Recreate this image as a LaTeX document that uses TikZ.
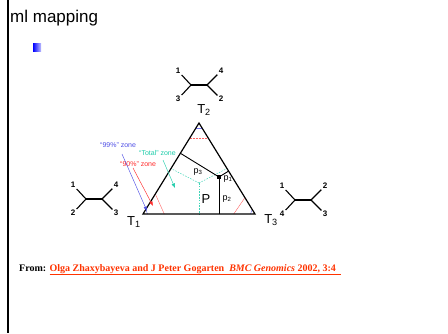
\documentclass[tikz,border=0pt]{standalone}
\usepackage{fontspec}
\setmainfont{Liberation Serif}
\setsansfont{Liberation Sans}
\usetikzlibrary{arrows.meta,calc}
\definecolor{zblue}{RGB}{80,80,230}
\definecolor{zcyan}{RGB}{30,205,170}
\definecolor{zred}{RGB}{255,45,45}
\definecolor{lnkred}{RGB}{255,51,0}
\tikzset{
  leaf/.style={font=\sffamily\bfseries\fontsize{8}{8}\selectfont, inner sep=1.2pt},
  treeline/.style={line width=1.1pt},
  tri/.style={line width=1.2pt},
  perp/.style={line width=0.9pt},
  cyandash/.style={zcyan!85, line width=0.5pt, dash pattern=on 1.5pt off 1.3pt},
  redline/.style={zred!75, line width=0.4pt},
  blueline/.style={zblue!80, line width=0.4pt},
  zlab/.style={font=\sffamily\fontsize{7}{7}\selectfont, inner sep=0, anchor=west},
  plab/.style={font=\sffamily\fontsize{9}{9}\selectfont, inner sep=0},
  tlab/.style={font=\sffamily\fontsize{13}{13}\selectfont, inner sep=0},
  ptr/.style={line width=0.45pt, -{Latex[length=4.5pt,width=3.5pt]}}
}
\newcommand\qtet[7]{%
  \coordinate (#1l) at ({#2-8},#3);
  \coordinate (#1r) at ({#2+8},#3);
  \node[leaf] (#1a) at ({#2-21},{#3-14}) {#4};
  \node[leaf] (#1b) at ({#2+22},{#3-14}) {#5};
  \node[leaf] (#1c) at ({#2-21},{#3+14}) {#6};
  \node[leaf] (#1d) at ({#2+22},{#3+14}) {#7};
  \draw[treeline] (#1a) -- (#1l) -- (#1c);
  \draw[treeline] (#1l) -- (#1r);
  \draw[treeline] (#1b) -- (#1r) -- (#1d);
}
\begin{document}
\begin{tikzpicture}[x=1pt,y=-1pt]
\useasboundingbox (0,0) rectangle (448,333);
\fill[white] (0,0) rectangle (448,333);
\draw[line width=1.4pt] (8,0) -- (8,333);
\node[anchor=base west, font=\sffamily\fontsize{17}{17}\selectfont, inner sep=0] (title) at (10,22) {ml mapping};
\shade[left color=blue, right color=blue!25] (33,43) rectangle (41,51);

% trees
\qtet{tt}{199}{85}{1}{4}{3}{2}
\qtet{lt}{94}{199}{1}{4}{2}{3}
\qtet{rt}{303}{200}{1}{2}{4}{3}

% triangle points
\coordinate (T1) at (143,214);
\coordinate (T2) at (199,123);
\coordinate (T3) at (255,214);
\coordinate (P) at (219,177);
\coordinate (C) at (199,183);

% total zone
\draw[cyandash] (C) -- ($(T1)!0.5!(T3)$);
\draw[cyandash] (C) -- ($(T1)!0.5!(T2)$);
\draw[cyandash] (C) -- ($(T2)!0.5!(T3)$);
% 90% zone
\draw[redline] ($(T1)!0.22!(T2)$) -- ($(T1)!0.19!(T3)$);
\draw[redline, dash pattern=on 2pt off 1pt] ($(T2)!0.165!(T1)$) -- ($(T2)!0.165!(T3)$);
\draw[redline] ($(T3)!0.18!(T2)$) -- ($(T3)!0.19!(T1)$);
% 99% zone
\draw[blueline] ($(T2)!0.055!(T1)$) -- ($(T2)!0.055!(T3)$);
\draw[blueline] ($(T3)!0.05!(T2)$) -- ($(T3)!0.04!(T1)$);
\draw[blueline] ($(T1)!0.05!(T2)$) -- ($(T1)!0.04!(T3)$);

% perpendiculars
\draw[perp] (P) -- ($(T1)!(P)!(T3)$);
\draw[perp] (P) -- ($(T1)!(P)!(T2)$);
\draw[perp] (P) -- ($(T2)!(P)!(T3)$);
\node[fill=black, minimum size=3.2pt, inner sep=0] (dot) at (P) {};

\draw[tri] (T1) -- (T2) -- (T3) -- cycle;

% labels inside
\node[plab] (p3) at (198,172) {p\textsubscript{3}};
\node[plab] (p1) at (228,179) {p\textsubscript{1}};
\node[plab] (p2) at (227,199) {p\textsubscript{2}};
\node[font=\sffamily\fontsize{13}{13}\selectfont, inner sep=0] (PP) at (206,199) {P};

% vertex labels
\node[tlab] (t2) at (204,110) {T\textsubscript{2}};
\node[tlab] (t1) at (134,222) {T\textsubscript{1}};
\node[tlab] (t3) at (271,220) {T\textsubscript{3}};

% zone labels
\node[zlab, text=zblue] (l99) at (100,145.5) {``99\%'' zone};
\node[zlab, text=zcyan] (ltot) at (139,153) {``Total'' zone};
\node[zlab, text=zred] (l90) at (120,164) {``90\%'' zone};
\coordinate (b0) at (122,154);
\coordinate (b1) at (147,211);
\coordinate (r0) at (133,168);
\coordinate (r1) at (153,206);
\coordinate (c0) at (163,160);
\coordinate (c1) at (175,188);
\draw[ptr, zblue] (b0) -- (b1);
\draw[ptr, zred] (r0) -- (r1);
\draw[ptr, zcyan] (c0) -- (c1);

% footer
\node[anchor=base west, font=\rmfamily\bfseries\fontsize{10}{12}\selectfont, inner sep=0] (from) at (19,271) {From: \textcolor{lnkred}{\underline{Olga Zhaxybayeva and J Peter Gogarten\ \ \textit{BMC Genomics} 2002, 3:4\ \ }}};
\end{tikzpicture}
\end{document}
